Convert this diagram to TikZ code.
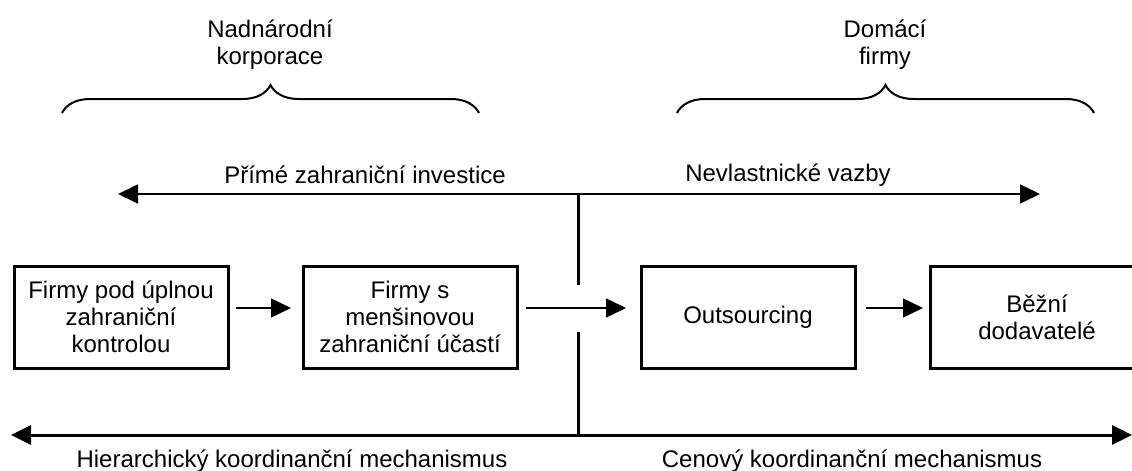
\documentclass[tikz,border=0pt]{standalone}
\usepackage{fontspec}
\setmainfont{Liberation Sans}
\usetikzlibrary{positioning,arrows.meta,decorations.pathreplacing}
\begin{document}
\begin{tikzpicture}[x=0.5pt, y=-0.5pt, node distance={37.5pt}, font=\fontsize{12}{13.5}\selectfont, box/.style = {draw, line width=1.5pt, minimum width=107pt, minimum height=51pt, align=center, inner sep=0pt, outer sep=0pt}, link/.style = {-{Triangle[length=10pt,width=9.5pt]}, line width=0.75pt}, axis/.style = {{Triangle[length=10pt,width=9.5pt]}-{Triangle[length=10pt,width=9.5pt]}}, brc/.style = {decorate, decoration={brace, amplitude=14pt}, line width=1pt}] 
\useasboundingbox (0,0) rectangle (1132,471);
\node[box] (1) at (121,317) {Firmy pod úplnou\\zahraniční\\kontrolou}; 
\node[box] (2) [right=of 1] {Firmy s\\menšinovou\\zahraniční účastí}; 
\node[box] (3) [right=62pt of 2] {Outsourcing}; 
\node[box] (4) [right=of 3] {Běžní\\dodavatelé}; 
\node (nk) at (270,45) [align=center] {Nadnárodní\\korporace};
\node (df) at (885,45) [align=center] {Domácí\\firmy};
\node (pzi) at (365,175) {Přímé zahraniční investice};
\node (nv) at (788,175) {Nevlastnické vazby};
\node (hkm) at (292,461) {Hierarchický koordinanční mechanismus};
\node (ckm) at (852,461) {Cenový koordinanční mechanismus};
\coordinate (tw) at (118,194);
\coordinate (te) at (1040,194);
\coordinate (bw) at (11,435);
\coordinate (be) at (1132,435);
\coordinate (c1) at (578,194);
\coordinate (c2) at (578,285);
\coordinate (c3) at (578,332);
\coordinate (c4) at (578,435);
\draw[brc] (62,113) -- (479,113);
\draw[brc] (677,113) -- (1094,113);
\draw[axis, line width=0.9pt] (tw) -- (te);
\draw[axis, line width=1.5pt] (bw) -- (be);
\draw[line width=1.5pt] (c1) -- (c2) (c3) -- (c4);
\draw[link, shorten <=4pt, shorten >=6pt] ([yshift=4.5pt]1.east) -- ([yshift=4.5pt]2.west);
\draw[link, shorten <=4.5pt, shorten >=7.5pt] ([yshift=4.5pt]2.east) -- ([yshift=4.5pt]3.west);
\draw[link, shorten <=5.5pt, shorten >=3.5pt] ([yshift=4.5pt]3.east) -- ([yshift=4.5pt]4.west);
\end{tikzpicture}
\end{document}
